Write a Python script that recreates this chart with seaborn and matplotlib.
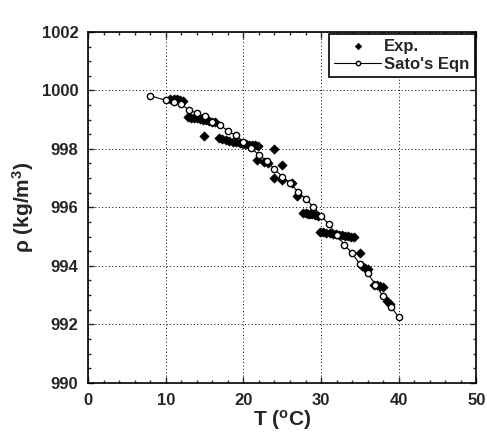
import numpy as np
import matplotlib
matplotlib.use("Agg")
import matplotlib.pyplot as plt
import pandas as pd
import seaborn as sns
from matplotlib.ticker import MultipleLocator

# Sato's equation (open circles with line)
T_sato = [8, 10, 11, 12, 13, 14, 15, 16, 17, 18, 19, 20, 21, 22, 23, 24, 25,
          26, 27, 28, 29, 30, 31, 32, 33, 34, 35, 36, 37, 38, 39, 40]
rho_sato = [999.82, 999.66, 999.60, 999.52, 999.33, 999.22, 999.12, 998.93,
            998.83, 998.60, 998.47, 998.22, 998.02, 997.80, 997.58, 997.32,
            997.05, 996.84, 996.54, 996.30, 996.02, 995.72, 995.42, 995.05,
            994.72, 994.43, 994.06, 993.75, 993.36, 992.96, 992.60, 992.25]

# experimental points (filled diamonds)
T_exp = [10.6, 11.0, 11.4, 11.8, 12.2,
         12.8, 13.2, 13.6, 14.0, 14.4, 14.8, 15.2, 15.6, 16.0, 16.4,
         14.9,
         16.9, 17.3, 17.7, 18.1,
         18.7, 19.1, 19.5, 19.9, 20.3, 20.7, 21.1, 21.5, 21.9,
         23.9,
         21.7, 22.6, 23.2, 25.0,
         24.0, 25.0, 26.2,
         26.9,
         27.7, 28.0, 28.3, 28.6, 28.9, 29.2, 29.6,
         29.9, 30.3, 30.7, 31.1, 31.5, 31.9, 32.3, 32.7, 33.1, 33.5, 33.9, 34.2,
         35.0,
         35.3, 35.7, 36.1,
         36.8, 37.2, 37.6, 38.0,
         38.5, 38.9]
rho_exp = [999.70, 999.72, 999.70, 999.68, 999.65,
           999.08, 999.06, 999.05, 999.04, 999.02, 999.00, 998.98, 998.95, 998.93, 998.92,
           998.45,
           998.38, 998.35, 998.32, 998.28,
           998.24, 998.22, 998.20, 998.18, 998.16, 998.14, 998.13, 998.12, 998.10,
           998.00,
           997.62, 997.54, 997.50, 997.46,
           997.00, 996.94, 996.83,
           996.40,
           995.80, 995.79, 995.78, 995.77, 995.76, 995.74, 995.72,
           995.17, 995.16, 995.14, 995.12, 995.10, 995.08, 995.06, 995.04, 995.03, 995.02, 995.00, 994.98,
           994.45,
           993.98, 993.94, 993.88,
           993.35, 993.33, 993.30, 993.28,
           992.80, 992.68]

x_ticks = [0, 10, 20, 30, 40, 50]
y_ticks = [990, 992, 994, 996, 998, 1000, 1002]

sns.set_style("ticks")
plt.rcParams['font.family'] = ['Liberation Sans', 'DejaVu Sans']
plt.rcParams['font.weight'] = 'bold'
plt.rcParams['mathtext.fontset'] = 'custom'
plt.rcParams['mathtext.rm'] = 'Liberation Sans:bold'
plt.rcParams['mathtext.it'] = 'Liberation Sans:bold'
plt.rcParams['mathtext.bf'] = 'Liberation Sans:bold'

exp = pd.DataFrame({"T": T_exp, "rho": rho_exp})
sato = pd.DataFrame({"T": T_sato, "rho": rho_sato})

fig = plt.figure(figsize=(4.87, 4.37), dpi=100)
ax = fig.add_axes([0.181, 0.124, 0.797, 0.803])

ax.grid(True, which='major', color='black', linestyle=(0, (1, 2.5)), linewidth=0.7)

sns.scatterplot(data=exp, x="T", y="rho", ax=ax, marker='D', s=22, color='black',
                edgecolor='black', linewidth=0.5, label='Exp.', zorder=3)
sns.lineplot(data=sato, x="T", y="rho", ax=ax, color='black', linewidth=0.8,
             marker='o', markersize=4.5, markerfacecolor='white',
             markeredgecolor='black', markeredgewidth=1.0, label="Sato's Eqn", zorder=4)

ax.set_xlim(0, 50)
ax.set_ylim(990, 1002)
ax.set_xticks(x_ticks)
ax.set_yticks(y_ticks)
ax.xaxis.set_minor_locator(MultipleLocator(2))
ax.yaxis.set_minor_locator(MultipleLocator(0.5))
ax.tick_params(which='both', direction='in', top=True, right=True, width=1)
ax.tick_params(which='major', length=4, labelsize=12, pad=7)
ax.tick_params(which='minor', length=2.5)
for lab in ax.get_xticklabels() + ax.get_yticklabels():
    lab.set_fontweight('bold')
for sp in ax.spines.values():
    sp.set_linewidth(1.2)
    sp.set_color('black')

ax.set_xlabel(r'T ($^{\mathrm{o}}$C)', fontsize=15, fontweight='bold', labelpad=0)
ax.set_ylabel(r'$\rho$ (kg/m$^{3}$)', fontsize=15, fontweight='bold', labelpad=4)

leg = ax.legend(loc='upper right', fontsize=12, frameon=True, fancybox=False,
                edgecolor='black', framealpha=1, borderpad=0.3, handlelength=2.8,
                handletextpad=0.2, borderaxespad=0.1, markerscale=0.7,
                labelspacing=0.2)
leg.get_frame().set_linewidth(1.2)

fig.savefig("out.png", dpi=100)
